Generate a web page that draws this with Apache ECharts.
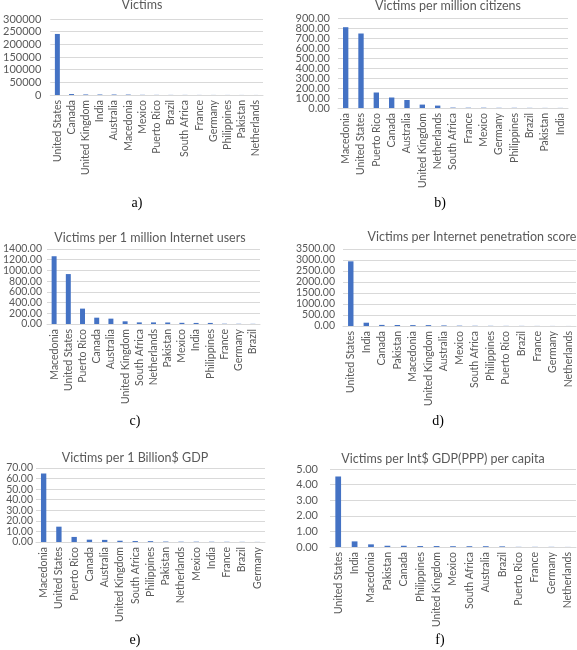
<!DOCTYPE html>
<html><head><meta charset="utf-8">
<script src="https://cdn.jsdelivr.net/npm/echarts@6/dist/echarts.min.js"></script>
<style>html,body{margin:0;padding:0;background:#fff}#c{width:577px;height:650px}</style>
</head><body><div id="c"></div>
<script>
// a) Victims
const catsA = ["United States","Canada","United Kingdom","India","Australia","Macedonia","Mexico","Puerto Rico","Brazil","South Africa","France","Germany","Philippines","Pakistan","Netherlands"];
const valsA = [241000,3800,2100,1950,1900,1700,700,530,430,400,300,270,250,230,200];
// b) Victims per million citizens
const catsB = ["Macedonia","United States","Puerto Rico","Canada","Australia","United Kingdom","Netherlands","South Africa","France","Mexico","Germany","Philippines","Brazil","Pakistan","India"];
const valsB = [808,745,155,105,80,34,24,4,3,3,2,2,1.5,1,1];
// c) Victims per 1 million Internet users
const catsC = ["Macedonia","United States","Puerto Rico","Canada","Australia","United Kingdom","South Africa","Netherlands","Pakistan","Mexico","India","Philippines","France","Germany","Brazil"];
const valsC = [1265,932,287,118,100,50,30,30,28,22,20,20,5,4,3];
// d) Victims per Internet penetration score
const catsD = ["United States","India","Canada","Pakistan","Macedonia","United Kingdom","Australia","Mexico","South Africa","Philippines","Puerto Rico","Brazil","France","Germany","Netherlands"];
const valsD = [2940,150,50,45,40,40,25,15,10,8,6,5,4,3,2];
// e) Victims per 1 Billion$ GDP
const catsE = ["Macedonia","United States","Puerto Rico","Canada","Australia","United Kingdom","South Africa","Philippines","Pakistan","Netherlands","Mexico","India","France","Brazil","Germany"];
const valsE = [64.8,14.5,4.8,2.2,2.0,1.2,0.9,0.8,0.4,0.3,0.3,0.25,0.2,0.15,0.1];
// f) Victims per Int$ GDP(PPP) per capita
const catsF = ["United States","India","Macedonia","Pakistan","Canada","Philippines","United Kingdom","Mexico","South Africa","Australia","Brazil","Puerto Rico","France","Germany","Netherlands"];
const valsF = [4.52,0.36,0.17,0.08,0.08,0.06,0.06,0.05,0.05,0.05,0.04,0.01,0.01,0.01,0.005];

// y-axis tick labels per panel
const ticksA = [0,50000,100000,150000,200000,250000,300000];
const ticksB = [0,100,200,300,400,500,600,700,800,900];
const ticksC = [0,200,400,600,800,1000,1200,1400];
const ticksD = [0,500,1000,1500,2000,2500,3000,3500];
const ticksE = [0,10,20,30,40,50,60,70];
const ticksF = [0,1,2,3,4,5];

const titles = ["Victims","Victims per million citizens","Victims per 1 million Internet users","Victims per Internet penetration score","Victims per 1 Billion$ GDP","Victims per Int$ GDP(PPP) per capita"];
const panelLabels = ["a)","b)","c)","d)","e)","f)"];

const panels = [
  {cats:catsA, vals:valsA, ticks:ticksA, dec:0, fs:11, m:9, grid:{left:47,top:19,width:216,height:76}, tx:142, ty:5, lx:137, ly:203},
  {cats:catsB, vals:valsB, ticks:ticksB, dec:2, fs:11, m:8, grid:{left:338,top:18,width:230,height:90}, tx:448, ty:6, lx:440, ly:203},
  {cats:catsC, vals:valsC, ticks:ticksC, dec:2, fs:10.5, m:5, grid:{left:43,top:249,width:217,height:75}, tx:150, ty:238, lx:135, ly:421},
  {cats:catsD, vals:valsD, ticks:ticksD, dec:2, fs:10.5, m:8, grid:{left:343,top:249,width:233,height:77}, tx:472, ty:237, lx:438, ly:421},
  {cats:catsE, vals:valsE, ticks:ticksE, dec:2, fs:10.5, m:3, grid:{left:36,top:468,width:229,height:74}, tx:135, ty:458, lx:135, ly:640},
  {cats:catsF, vals:valsF, ticks:ticksF, dec:2, fs:11, m:12, grid:{left:330,top:469,width:246,height:78}, tx:443, ty:459, lx:440, ly:640}
];

const FONT = "Lato, 'Open Sans', sans-serif";
const grid=[], xAxis=[], yAxis=[], series=[], graphic=[];
panels.forEach((p,i)=>{
  const t = p.ticks, mx = t[t.length-1], iv = t[1]-t[0];
  grid.push(Object.assign({containLabel:false}, p.grid));
  xAxis.push({type:'category', gridIndex:i, data:p.cats,
    axisLine:{lineStyle:{color:'#d9d9d9'}}, axisTick:{show:false},
    axisLabel:{rotate:90, interval:0, color:'#595959', fontSize:10.5, fontFamily:FONT, margin:5}});
  const lab = (vals)=>({color:'#595959', fontSize:p.fs, fontFamily:FONT, margin:p.m,
      customValues:vals, showMinLabel:true, showMaxLabel:true,
      formatter:(v)=>Number(v).toFixed(p.dec)});
  // main axis: grid lines + even-indexed labels
  yAxis.push({type:'value', gridIndex:i, min:0, max:mx, interval:iv,
    axisLine:{show:false}, axisTick:{show:false},
    splitLine:{lineStyle:{color:'#d9d9d9'}},
    axisLabel:lab(t.filter((v,k)=>k%2===0))});
  const mainIdx = yAxis.length-1;
  // overlay axis: odd-indexed labels (same scale)
  yAxis.push({type:'value', gridIndex:i, min:0, max:mx, interval:iv, position:'left',
    axisLine:{show:false}, axisTick:{show:false}, splitLine:{show:false},
    axisLabel:lab(t.filter((v,k)=>k%2===1))});
  series.push({type:'bar', xAxisIndex:i, yAxisIndex:mainIdx, data:p.vals, barWidth:'35%',
    itemStyle:{color:'#4472C4'}, silent:true});
  graphic.push({type:'text', x:p.tx, y:p.ty, style:{text:titles[i], font:"12.5px "+FONT, fill:'#595959', textAlign:'center', textVerticalAlign:'middle'}});
  graphic.push({type:'text', x:p.lx, y:p.ly, style:{text:panelLabels[i], font:"14px 'Liberation Serif', serif", fill:'#000', textAlign:'center', textVerticalAlign:'middle'}});
});

const chart = echarts.init(document.getElementById('c'), null, {renderer:'canvas'});
chart.setOption({animation:false, backgroundColor:'#fff', grid, xAxis, yAxis, series, graphic});
</script>
</body></html>
